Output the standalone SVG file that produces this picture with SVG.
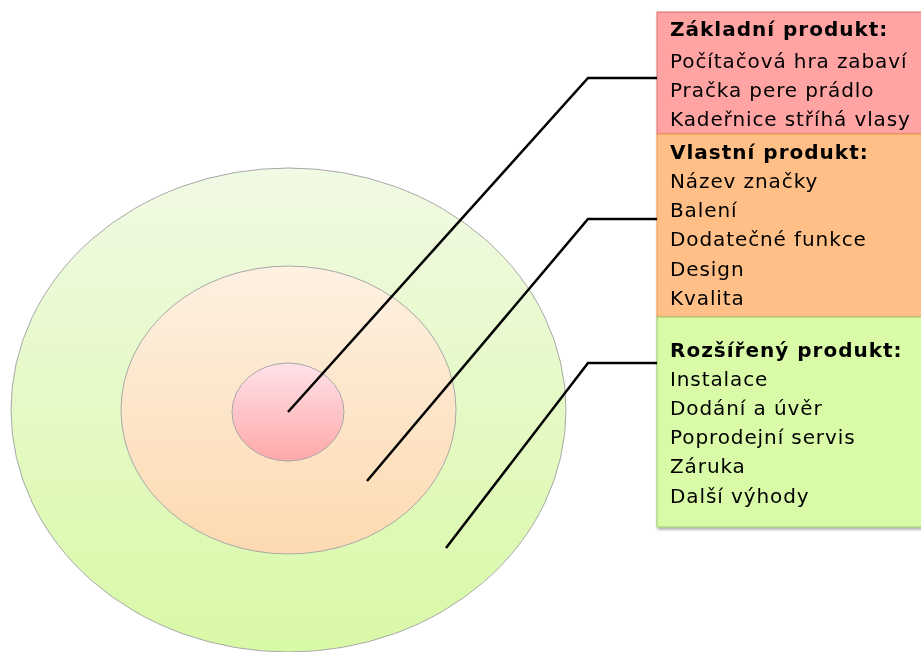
<svg xmlns="http://www.w3.org/2000/svg" width="921" height="652" viewBox="0 0 921 652">
  <defs>
    <linearGradient id="gOuter" x1="0" y1="0" x2="0" y2="1">
      <stop offset="0" stop-color="#F1FAE4"/>
      <stop offset="1" stop-color="#D8F9A6"/>
    </linearGradient>
    <linearGradient id="gMid" x1="0" y1="0" x2="0" y2="1">
      <stop offset="0" stop-color="#FDF1E2"/>
      <stop offset="1" stop-color="#FDDAB0"/>
    </linearGradient>
    <linearGradient id="gInner" x1="0" y1="0" x2="0" y2="1">
      <stop offset="0" stop-color="#FFE2E8"/>
      <stop offset="1" stop-color="#FFA8A8"/>
    </linearGradient>
    <filter id="shadow" x="-10%" y="-10%" width="130%" height="130%">
      <feGaussianBlur in="SourceAlpha" stdDeviation="1.5"/>
      <feOffset dx="1" dy="2" result="b"/>
      <feComponentTransfer><feFuncA type="linear" slope="0.35"/></feComponentTransfer>
      <feMerge><feMergeNode/><feMergeNode in="SourceGraphic"/></feMerge>
    </filter>
  </defs>
  <style>
    .ring { stroke: #A8A8A8; stroke-width: 1; }
    .lead { fill: none; stroke: #000; stroke-width: 2.5; stroke-linejoin: miter; }
    .t { font-family: "DejaVu Sans", Verdana, sans-serif; font-size: 20px; letter-spacing: 0.9px; fill: #000; }
    .h { font-weight: bold; letter-spacing: 1px; }
  </style>

  <!-- concentric product layers -->
  <g id="layer-outer"><ellipse class="ring" cx="288.5" cy="410" rx="277.5" ry="242" fill="url(#gOuter)"/></g>
  <g id="layer-middle"><ellipse class="ring" cx="288.5" cy="410" rx="167.5" ry="144" fill="url(#gMid)"/></g>
  <g id="layer-inner"><ellipse class="ring" cx="288" cy="412" rx="56" ry="49" fill="url(#gInner)"/></g>

  <!-- description boxes -->
  <g id="box-zakladni" filter="url(#shadow)">
    <rect x="657" y="12" width="266" height="122" fill="#FFA3A3" stroke="#E07070" stroke-width="1"/>
    <text class="t h" x="670" y="36">Základní produkt:</text>
    <text class="t" x="670" y="68">Počítačová hra zabaví</text>
    <text class="t" x="670" y="97">Pračka pere prádlo</text>
    <text class="t" x="670" y="126">Kadeřnice stříhá vlasy</text>
  </g>
  <g id="box-vlastni" filter="url(#shadow)">
    <rect x="657" y="134" width="266" height="183" fill="#FFBF87" stroke="#F0964A" stroke-width="1"/>
    <text class="t h" x="670" y="159">Vlastní produkt:</text>
    <text class="t" x="670" y="188">Název značky</text>
    <text class="t" x="670" y="217">Balení</text>
    <text class="t" x="670" y="246">Dodatečné funkce</text>
    <text class="t" x="670" y="276">Design</text>
    <text class="t" x="670" y="305">Kvalita</text>
  </g>
  <g id="box-rozsireny" filter="url(#shadow)">
    <rect x="657" y="317" width="266" height="210" fill="#D9FBA8" stroke="#9BCB6A" stroke-width="1"/>
    <text class="t h" x="670" y="357">Rozšířený produkt:</text>
    <text class="t" x="670" y="386">Instalace</text>
    <text class="t" x="670" y="415">Dodání a úvěr</text>
    <text class="t" x="670" y="444">Poprodejní servis</text>
    <text class="t" x="670" y="473">Záruka</text>
    <text class="t" x="670" y="503">Další výhody</text>
  </g>

  <!-- leader lines from layers to boxes -->
  <g id="connectors">
    <polyline class="lead" points="288,412 588,78 657,78"/>
    <polyline class="lead" points="367,481 588,219 657,219"/>
    <polyline class="lead" points="446,548 588,363 657,363"/>
  </g>
</svg>
